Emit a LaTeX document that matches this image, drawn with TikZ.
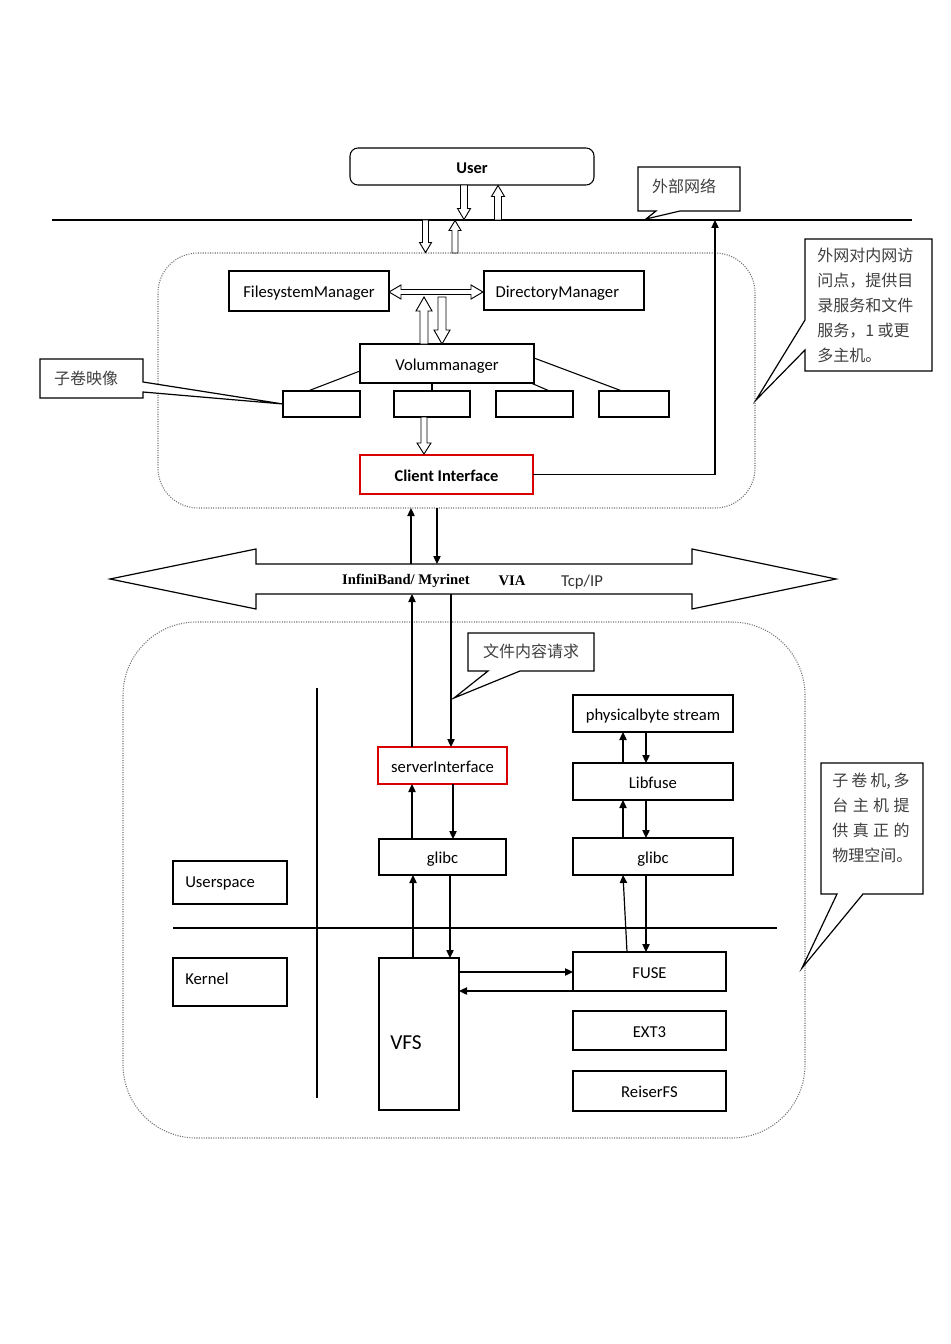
\documentclass[tikz,border=0pt]{standalone}
\usepackage{fontspec}
\setmainfont{Carlito}
\newfontfamily\cjk{Noto Sans CJK SC}
\newfontfamily\tnr{Liberation Serif}
\usetikzlibrary{arrows.meta,calc}
\newdimen\pxu \pxu=0.75pt
% box by corners: name, x1, y1, x2, y2, style, text
\newcommand\bx[7]{\node[#6, minimum width={(#4-#2)*\pxu}, minimum height={(#5-#3)*\pxu}] (#1) at ({(#2+#4)/2},{(#3+#5)/2}) {#7};}
% hollow vertical arrows: x, ytail, ytip, half shaft, half head, head length
\newcommand\hup[6]{\draw[hollow] (#1-#4,#2) -- (#1-#4,#3+#6) -- (#1-#5,#3+#6) -- (#1,#3) -- (#1+#5,#3+#6) -- (#1+#4,#3+#6) -- (#1+#4,#2) -- cycle;}
\newcommand\hdown[6]{\draw[hollow] (#1-#4,#2) -- (#1-#4,#3-#6) -- (#1-#5,#3-#6) -- (#1,#3) -- (#1+#5,#3-#6) -- (#1+#4,#3-#6) -- (#1+#4,#2) -- cycle;}
\begin{document}
\begin{tikzpicture}[x=0.75pt,y=-0.75pt,
  box/.style={draw, line width=0.8pt, inner sep=0pt, outer sep=0pt, fill=white, font=\fontsize{12.5}{14}\selectfont, text height=10pt, text depth=0pt},
  redbox/.style={box, draw=red!85!black},
  dots/.style={draw=gray!90!black, line width=0.8pt, densely dotted, inner sep=0pt, outer sep=0pt},
  arr/.style={line width=0.9pt, -{Triangle[length=6pt,width=5.5pt]}},
  thin/.style={line width=0.8pt},
  hollow/.style={draw, line width=0.7pt, fill=white, line join=miter},
  callout/.style={draw, line width=0.9pt, fill=white, line join=miter},
  ctext/.style={font=\cjk\fontsize{12}{18.75}\selectfont, text=black!75, inner sep=0pt},
  lbl/.style={font=\fontsize{12.5}{14}\selectfont, inner sep=0pt, text height=8pt, text depth=0pt}]
\useasboundingbox (0,0) rectangle (950,1344);

% containers
\bx{upper}{158}{253}{755}{508}{dots,rounded corners=30pt}{}
\bx{lower}{123}{622}{805}{1138}{dots,rounded corners=55pt}{}

% ---------- top ----------
\bx{user}{350}{148}{594}{185}{box,rounded corners=6pt,font=\fontsize{12.3}{14}\selectfont\bfseries,text height=11pt}{User}
\coordinate (netL) at (52,220);
\coordinate (netR) at (912,220);
\coordinate (netUp) at (715,220);
\draw[thin] (netL) -- (netR);
\hdown{464}{185}{219.5}{3.5}{6.5}{11}
\hup{498}{220}{185.5}{3.5}{6.5}{11}
\hdown{425.5}{220}{252.5}{3}{6}{10}
\hup{455}{253}{220.5}{3}{6}{10}

% callout: 外部网络
\draw[callout] (638,167) -- (740,167) -- (740,211) -- (680,211) -- (646,219) -- (656,211) -- (638,211) -- cycle;
\node[ctext] (cNet) at (684,186) {外部网络};

% callout: access point
\coordinate (accTip) at (756,400);
\draw[callout] (805,239) -- (932,239) -- (932,371) -- (805,371) -- (805,350) -- (accTip) -- (805,320) -- cycle;
\node[ctext, anchor=north west, align=left] (cAccess) at (817,248) {外网对内网访\\问点，提供目\\录服务和文件\\服务，1 或更\\多主机。};

% ---------- upper box contents ----------
\bx{fsm}{229}{271}{389}{311}{box}{FilesystemManager}
\bx{dm}{484}{271}{644}{310}{box}{\hspace*{-10pt}DirectoryManager}
\draw[hollow] (389,292) -- (401,285) -- (401,289.5) -- (471,289.5) -- (471,285) -- (483,292) -- (471,299) -- (471,294.5) -- (401,294.5) -- (401,299) -- cycle;
\bx{vm}{360}{344}{534}{383}{box}{Volummanager}
\hup{424}{344}{297}{4}{8}{14}
\hdown{442}{297}{344}{4}{8}{14}

\bx{sub1}{283}{391}{360}{417}{box}{}
\bx{sub2}{394}{391}{470}{417}{box}{}
\bx{sub3}{496}{391}{573}{417}{box}{}
\bx{sub4}{599}{391}{669}{417}{box}{}
\draw[thin] ($(vm.south west)+(0,-12)$) -- ($(sub1.north west)+(25,0)$);
\draw[thin] (vm.south -| sub2.north) -- (sub2.north);
\draw[thin] ($(vm.south east)+(-3,0)$) -- ($(sub3.north)+(15,0)$);
\draw[thin] ($(vm.north east)+(0,14)$) -- ($(sub4.north)+(-12,0)$);

\bx{ci}{360}{455}{533}{494}{redbox,font=\fontsize{12.3}{14}\selectfont\bfseries}{Client Interface}
\hdown{424}{417}{454}{3}{7}{11}
\draw[arr] (ci.east) -| (netUp);

% callout: 子卷映像
\draw[callout] (40,359) -- (143,359) -- (143,382) -- (sub1.west) -- (143,392) -- (143,398) -- (40,398) -- cycle;
\node[ctext] (cSub) at (86,378) {子卷映像};

% ---------- network band ----------
\draw[line width=0.9pt, fill=white, line join=miter] (110,579) -- (256,549) -- (256,564) -- (692,564) -- (692,549) -- (836,579) -- (692,609) -- (692,594) -- (256,594) -- (256,609) -- cycle;
\coordinate (bandT) at (0,564);
\coordinate (bandB) at (0,594);
\node[font=\tnr\bfseries\fontsize{11}{13}\selectfont, inner sep=0pt] (ib) at (406,581) {InfiniBand/ Myrinet};
\node[font=\tnr\bfseries\fontsize{11}{13}\selectfont, inner sep=0pt] (via) at (512,581) {VIA};
\node[lbl, text=black!80] (tcp) at (582,581) {Tcp/IP};
\draw[arr] (bandT -| 411,0) -- (upper.south -| 411,0);
\draw[arr] (upper.south -| 437,0) -- (bandT -| 437,0);

% ---------- lower box contents ----------
\bx{si}{378}{747}{507}{784}{redbox}{serverInterface}
\draw[arr] (si.north -| 412,0) -- (bandB -| 412,0);
\draw[arr] (bandB -| 451,0) -- (si.north -| 451,0);

% callout: 文件内容请求
\draw[callout] (468,633) -- (594,633) -- (594,671) -- (520,671) -- (454,698) -- (488,671) -- (468,671) -- cycle;
\node[ctext] (cReq) at (531,651) {文件内容请求};

\bx{glL}{379}{839}{506}{875}{box}{glibc}
\draw[arr] (glL.north -| 412,0) -- (si.south -| 412,0);
\draw[arr] (si.south -| 453,0) -- (glL.north -| 453,0);

\bx{us}{173}{861}{287}{904}{box}{}
\node[lbl, anchor=west] (usT) at (185,882) {Userspace};
\bx{kn}{173}{958}{287}{1006}{box}{}
\node[lbl, anchor=west] (knT) at (185,979) {Kernel};

\coordinate (divL) at (173,928);
\coordinate (divR) at (777,928);
\draw[thin] (divL) -- (divR);
\coordinate (vT) at (317,688);
\coordinate (vB) at (317,1098);
\draw[thin] (vT) -- (vB);

\bx{vfs}{379}{958}{459}{1110}{box}{}
\node[font=\fontsize{16}{18}\selectfont, inner sep=0pt, anchor=west, text height=10.3pt, text depth=0pt] (vfsT) at (390,1043) {VFS};
\draw[arr] (vfs.north -| 413,0) -- (glL.south -| 413,0);
\draw[arr] (glL.south -| 450,0) -- (vfs.north -| 450,0);

\bx{pbs}{573}{695}{733}{732}{box}{physicalbyte stream}
\bx{lf}{573}{763}{733}{800}{box}{Libfuse}
\bx{glR}{573}{838}{733}{875}{box}{glibc}
\bx{fuse}{573}{952}{726}{991}{box}{FUSE}
\bx{ext}{573}{1011}{726}{1050}{box}{EXT3}
\bx{rfs}{573}{1071}{726}{1111}{box}{ReiserFS}

\draw[arr] (lf.north -| 623,0) -- (pbs.south -| 623,0);
\draw[arr] (pbs.south -| 646,0) -- (lf.north -| 646,0);
\draw[arr] (glR.north -| 623,0) -- (lf.south -| 623,0);
\draw[arr] (lf.south -| 646,0) -- (glR.north -| 646,0);
\draw[arr] (fuse.north -| 627,0) -- (glR.south -| 623,0);
\draw[arr] (glR.south -| 646,0) -- (fuse.north -| 646,0);

\draw[arr] (vfs.east |- 0,972) -- (fuse.west |- 0,972);
\draw[arr] (fuse.south west) -- (vfs.east |- fuse.south west);

% callout: 子卷机
\draw[callout] (821,763) -- (923,763) -- (923,894) -- (863,894) -- (802,968) -- (837,894) -- (821,894) -- cycle;
\node[ctext, align=center] (cHost) at (871,818) {%
\makebox[58pt][s]{子\hfill 卷\hfill 机,\hfill 多}\\
\makebox[58pt][s]{台\hfill 主\hfill 机\hfill 提}\\
\makebox[58pt][s]{供\hfill 真\hfill 正\hfill 的}\\
\makebox[58pt][s]{物\hfill 理\hfill 空\hfill 间。}};
\end{tikzpicture}
\end{document}
